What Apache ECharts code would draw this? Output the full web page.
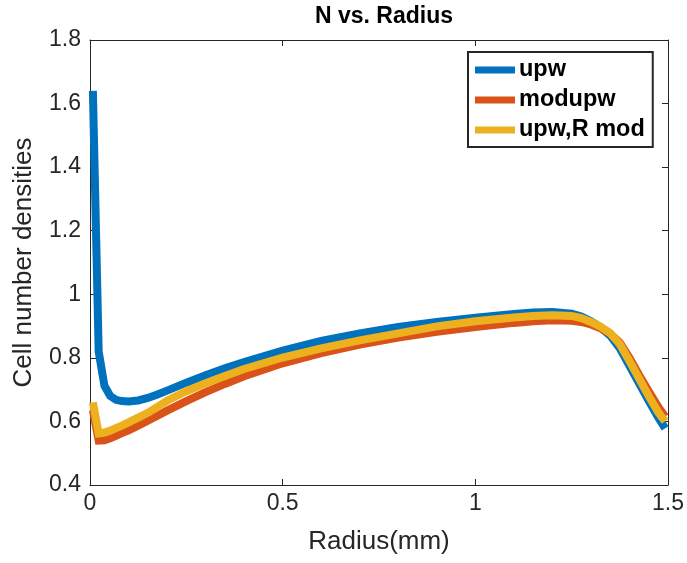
<!DOCTYPE html>
<html>
<head>
    <meta charset="utf-8">
    <title>N vs. Radius</title>
    <script src="https://cdn.jsdelivr.net/npm/echarts@6/dist/echarts.min.js"></script>
    <style>
        html, body { margin: 0; padding: 0; background: #fff; }
        #container { width: 687px; height: 563px; }
    </style>
</head>
<body>
<div id="container"></div>
<script>
    // radius (mm)
    var radius = [0.0075, 0.0225, 0.0375, 0.0525, 0.0675, 0.0825, 0.1, 0.125, 0.15, 0.175, 0.2, 0.25, 0.3, 0.35,
        0.4, 0.5, 0.6, 0.7, 0.8, 0.9, 1.0, 1.1, 1.15, 1.2, 1.25, 1.275, 1.3, 1.325, 1.35, 1.375, 1.4, 1.425,
        1.45, 1.475, 1.4925];
    var upw = [1.64, 0.82, 0.712, 0.68, 0.668, 0.664, 0.663, 0.666, 0.674, 0.685, 0.697, 0.722, 0.745, 0.767,
        0.787, 0.823, 0.853, 0.877, 0.897, 0.913, 0.926, 0.938, 0.943, 0.944, 0.939, 0.93, 0.915, 0.896,
        0.87, 0.83, 0.775, 0.72, 0.665, 0.612, 0.578];
    var modupw = [0.635, 0.54, 0.541, 0.547, 0.555, 0.563, 0.572, 0.587, 0.602, 0.618, 0.634, 0.664, 0.692, 0.718,
        0.742, 0.783, 0.815, 0.842, 0.864, 0.882, 0.897, 0.91, 0.915, 0.918, 0.917, 0.913, 0.905, 0.893,
        0.876, 0.848, 0.8, 0.746, 0.695, 0.645, 0.615];
    var upwRmod = [0.66, 0.562, 0.565, 0.571, 0.579, 0.587, 0.597, 0.612, 0.627, 0.646, 0.665, 0.695, 0.72, 0.743,
        0.765, 0.801, 0.83, 0.855, 0.877, 0.899, 0.915, 0.927, 0.932, 0.934, 0.932, 0.925, 0.913, 0.898,
        0.878, 0.843, 0.79, 0.735, 0.68, 0.628, 0.6];
    var seriesNames = ['upw', 'modupw', 'upw,R mod'];
    var seriesColors = ['#0072BD', '#D95319', '#EDB120'];

    var FONT = 'Liberation Sans, Arial, Helvetica, sans-serif';
    var AX = '#262626';

    function pairs(ys) {
        var out = [];
        for (var i = 0; i < radius.length; i++) out.push([radius[i], ys[i]]);
        return out;
    }

    var myChart = echarts.init(document.getElementById('container'), null, {renderer: 'canvas'});

    var baseAxis = {
        axisLine: {show: true, onZero: false, lineStyle: {color: AX, width: 1}},
        axisTick: {show: true, inside: true, length: 6, lineStyle: {color: AX}},
        splitLine: {show: false}
    };

    var option = {
        backgroundColor: '#fff',
        animation: false,
        title: {
            text: 'N vs. Radius',
            left: 379,
            top: 0,
            textAlign: 'center',
            textStyle: {fontFamily: FONT, fontSize: 23, fontWeight: 'bold', color: '#000'}
        },
        legend: {
            orient: 'vertical',
            left: 468,
            top: 52,
            data: seriesNames,
            icon: 'rect',
            itemWidth: 40,
            itemHeight: 7,
            itemGap: 6,
            padding: [6, 8, 5, 7],
            borderColor: '#262626',
            borderWidth: 2,
            borderRadius: 0,
            backgroundColor: '#fff',
            textStyle: {fontFamily: FONT, fontSize: 23.5, fontWeight: 'bold', color: '#000', padding: [0, 0, 0, -1]}
        },
        grid: {left: 90, right: 19, top: 40, bottom: 78},
        xAxis: [
            Object.assign({}, baseAxis, {
                type: 'value', position: 'bottom', min: 0, max: 1.5, interval: 0.5,
                name: 'Radius(mm)', nameLocation: 'middle', nameGap: 44,
                nameTextStyle: {fontFamily: FONT, fontSize: 26, color: AX},
                axisLabel: {margin: 7, fontFamily: FONT, fontSize: 23, color: AX}
            }),
            Object.assign({}, baseAxis, {
                type: 'value', position: 'top', min: 0, max: 1.5, interval: 0.5,
                axisLabel: {show: false}
            })
        ],
        yAxis: [
            Object.assign({}, baseAxis, {
                type: 'value', position: 'left', min: 0.4, max: 1.8, interval: 0.2,
                name: 'Cell number densities', nameLocation: 'middle', nameGap: 53,
                nameTextStyle: {fontFamily: FONT, fontSize: 26, color: AX},
                axisLabel: {margin: 9, fontFamily: FONT, fontSize: 23, color: AX}
            }),
            Object.assign({}, baseAxis, {
                type: 'value', position: 'right', min: 0.4, max: 1.8, interval: 0.2,
                axisLabel: {show: false}
            })
        ],
        series: [upw, modupw, upwRmod].map(function (ys, i) {
            return {
                name: seriesNames[i],
                type: 'line',
                data: pairs(ys),
                showSymbol: false,
                color: seriesColors[i],
                lineStyle: {width: 8, color: seriesColors[i], join: 'miter', cap: 'butt'}
            };
        })
    };
    myChart.setOption(option);
</script>
</body>
</html>
